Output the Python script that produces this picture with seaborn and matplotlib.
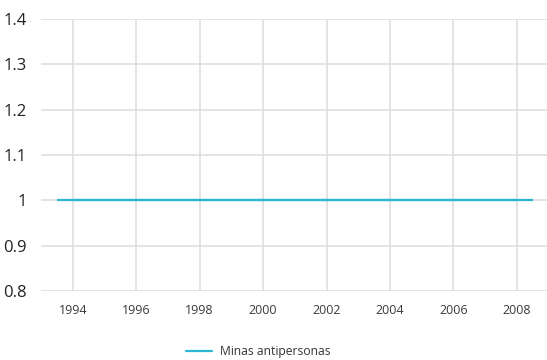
import matplotlib
matplotlib.use("Agg")
import matplotlib.pyplot as plt
import seaborn as sns
import pandas as pd
import numpy as np

years = [1994, 1995, 1996, 1997, 1998, 1999, 2000, 2001, 2002, 2003, 2004, 2005, 2006, 2007, 2008]
values = [1, 1, 1, 1, 1, 1, 1, 1, 1, 1, 1, 1, 1, 1, 1]
series_name = "Minas antipersonas"
x_ticks = [1994, 1996, 1998, 2000, 2002, 2004, 2006, 2008]
y_ticks = [0.8, 0.9, 1.0, 1.1, 1.2, 1.3, 1.4]
y_tick_labels = ["0.8", "0.9", "1", "1.1", "1.2", "1.3", "1.4"]

sns.set_theme(style="white")
plt.rcParams['font.family'] = ['Open Sans', 'DejaVu Sans']

color = "#2bb6d4"
df = pd.DataFrame({"year": years, "value": values, "serie": series_name})

fig = plt.figure(figsize=(5.47, 3.6), dpi=100)
ax = fig.add_axes([41/547, (360-291)/360, (547-41)/547, (291-19)/360])

sns.lineplot(data=df, x="year", y="value", hue="serie", palette=[color],
             linewidth=1.6, ax=ax, legend=True)
# each yearly value spans its whole year band
yr = np.array(years, dtype=float)
ax.hlines(values, yr - 0.5, yr + 0.5, color=color, linewidth=1.6, zorder=3)

ax.set_xlim(1993, 2008.95)
ax.set_ylim(0.8, 1.4)
ax.set_xticks(x_ticks)
ax.set_xticklabels([str(t) for t in x_ticks], fontsize=9, color="#3a3a3a")
ax.set_yticks(y_ticks)
ax.set_yticklabels(y_tick_labels, fontsize=12, color="#222222")
ax.tick_params(axis="x", length=0, pad=9)
ax.tick_params(axis="y", length=0, pad=10)
ax.grid(True, color="#dddddd", linewidth=1.1)
for s in ax.spines.values():
    s.set_visible(False)
ax.set_xlabel("")
ax.set_ylabel("")

handles, labels = ax.get_legend_handles_labels()
ax.legend(handles[:1], labels[:1], loc="center", bbox_to_anchor=(258/547, 8/360),
          bbox_transform=fig.transFigure, frameon=False, fontsize=8.7,
          handlelength=2.2, handletextpad=0.6, labelcolor="#333333")

fig.savefig("out.png", dpi=100)
